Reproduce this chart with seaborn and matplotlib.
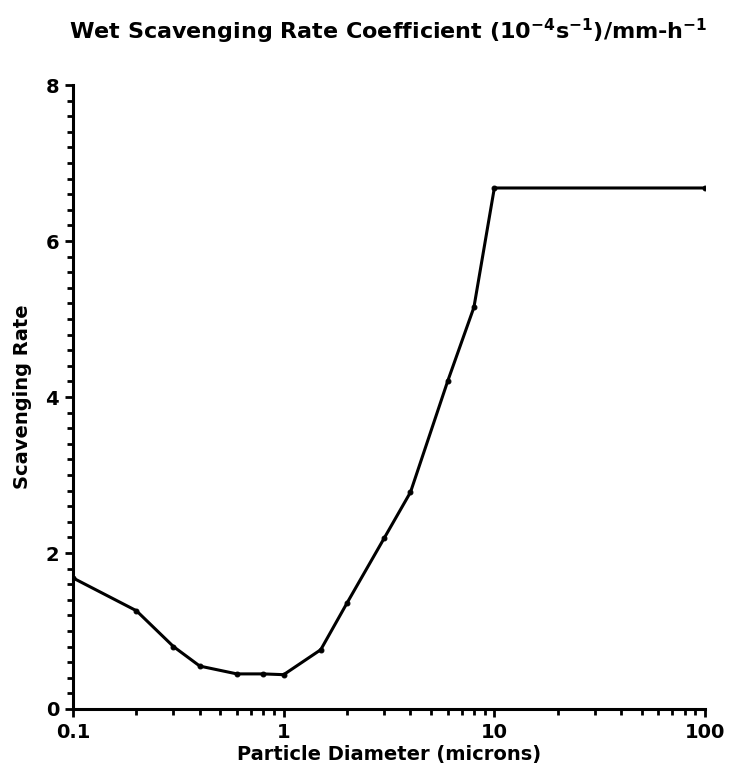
import matplotlib
matplotlib.use("Agg")
import matplotlib.pyplot as plt
import matplotlib.ticker as mticker
import seaborn as sns
import pandas as pd

diameter = [0.1, 0.2, 0.3, 0.4, 0.6, 0.8, 1.0, 1.5, 2.0, 3.0, 4.0, 6.0, 8.0, 10.0, 100.0]
rate = [1.68, 1.26, 0.80, 0.55, 0.45, 0.45, 0.44, 0.76, 1.36, 2.19, 2.78, 4.20, 5.15, 6.68, 6.68]
xticks = [0.1, 1, 10, 100]
xticklabels = ["0.1", "1", "10", "100"]
yticks = [0, 2, 4, 6, 8]

df = pd.DataFrame({"diameter": diameter, "rate": rate})

sns.set_style("ticks")
plt.rcParams["font.family"] = ["DejaVu Sans"]
plt.rcParams["font.weight"] = "bold"
plt.rcParams["text.color"] = "black"
plt.rcParams["axes.labelcolor"] = "black"

fig = plt.figure(figsize=(7.29, 7.73), dpi=100)
ax = fig.add_axes([0.1001, 0.0828, 0.8670, 0.8072])

sns.lineplot(data=df, x="diameter", y="rate", ax=ax, color="black",
             linewidth=2.2, marker="o", markersize=3.5, markeredgecolor="black")

ax.set_xscale("log")
ax.set_xlim(0.1, 100)
ax.set_ylim(0, 8)
ax.set_xticks(xticks)
ax.set_xticklabels(xticklabels)
ax.xaxis.set_minor_locator(mticker.LogLocator(base=10, subs=range(2, 10)))
ax.xaxis.set_minor_formatter(mticker.NullFormatter())
ax.set_yticks(yticks)
ax.yaxis.set_minor_locator(mticker.MultipleLocator(0.2))

for s in ["top", "right"]:
    ax.spines[s].set_visible(False)
for s in ["left", "bottom"]:
    ax.spines[s].set_linewidth(2.2)
    ax.spines[s].set_color("black")

ax.tick_params(which="major", direction="out", length=6, width=2, color="black",
               labelsize=14, labelcolor="black", pad=4)
ax.tick_params(which="minor", direction="out", length=4.5, width=2, color="black")

ax.set_xlabel("Particle Diameter (microns)", fontsize=14, fontweight="bold",
              labelpad=2, color="black")
ax.set_ylabel("Scavenging Rate", fontsize=14, fontweight="bold", labelpad=10,
              color="black")
fig.text(0.533, 0.96, r"Wet Scavenging Rate Coefficient (10$^{\mathbf{-4}}$s$^{\mathbf{-1}}$)/mm-h$^{\mathbf{-1}}$",
         ha="center", va="center", fontsize=16, fontweight="bold", color="black")

fig.savefig("out.png", dpi=100)
